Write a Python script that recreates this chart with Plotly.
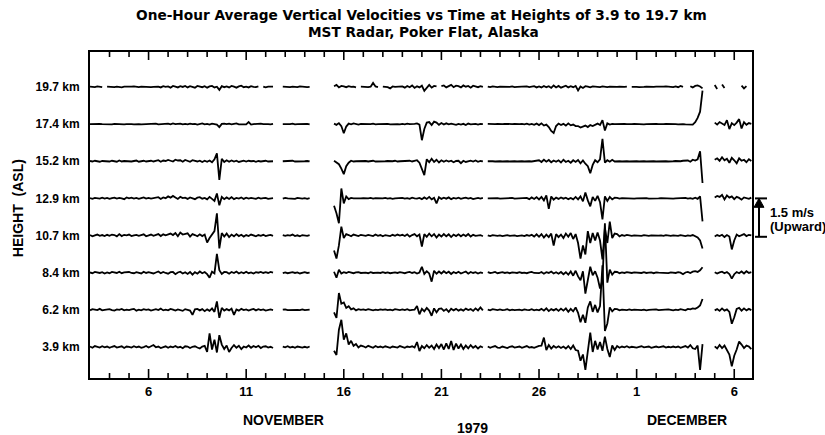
import pandas as pd
import plotly.graph_objects as go

# ---------------- data (one-hour average vertical velocity, cm/s, sampled every 3 h) ----------------
start_time = "1979-11-03 00:00"
step = "3h"
height_labels = ["3.9 km", "6.2 km", "8.4 km", "10.7 km", "12.9 km", "15.2 km", "17.4 km", "19.7 km"]
N = None

w_3_9 = [
    2, -3, 4, 0, -2, 3, -1, 2,   -3, 1, 4, -2, 0, 3, -4, 2,
    1, -2, 3, -1, 2, -3, 0, 4,   -2, 3, 8, -1, 2, -4, 1, 3,
    -3, 2, -1, 4, -2, 1, -5, 3,   2, -4, 1, 3, -2, -6, 2, 5,
    -20, 55, -10, 30, -22, 48, 10, -8,   6, -20, -4, 8, -3, 5, -8, 2,
    -2, 6, -3, 4, -1, 5, -4, 2,   3, -2, 1, -4, N, N, N, 2,
    -1, 3, -2, 1, -3, 2, 0, -2,   1, -2, 2, N, N, N, N, N,
    N, N, N, N, -15, -32, 70, 110,   30, 55, 10, 25, 5, 12, -2, 6,
    3, -2, 5, 0, -3, 4, -1, 2,   -2, 3, 1, -3, 2, 0, -2, 4,
    1, -3, 2, 0, 3, -2, 20, -16,   4, -5, 8, -3, 6, -8, 10, -4,
    12, -10, 15, -8, 24, -12, 14, -6,   10, -8, 6, -5, 8, -3, 4, -6,
    3, -2, N, 2, -3, 1, 4, -2,   -3, 2, 0, -4, 1, 3, -2, 0,
    2, -3, 1, 4, -2, 0, -3, 2,   5, 6, 38, -12, 8, -6, 4, -3,
    3, -4, 2, -6, 4, -8, 6, -12,   -15, -55, -30, -92, -25, 58, -20, 25,
    -10, 20, -15, 42, -8, -40, 6, -12,   4, -3, 2, -1, 3, -2, 1, 0,
    -2, 1, 3, -1, 0, 2, -3, 1,   2, -1, 0, 3, -2, 1, -1, 2,
    -1, 2, -3, 1, 4, -2, 8, -5,   -8, 6, -92, 12, N, N, N, N,
    3, -6, 8, -4, 6, -10, -30, -78,   -35, -10, 22, 10, -4, 6, 2, -8,
]

w_6_2 = [
    -2, 3, 1, -1, 4, -2, 0, 2,   3, -1, -3, 2, 0, 4, -2, 1,
    -1, 2, 4, -3, 1, -2, 3, 0,   2, -3, 0, 3, -1, 5, -2, 1,
    -2, 4, 1, -3, 2, 0, -4, 3,   1, -3, -20, 2, 4, -2, 3, -5,
    2, -4, 6, -8, 34, -32, 8, -3,   3, -2, 5, -20, 2, -3, 4, -1,
    2, -3, 1, 4, -2, 3, -1, 2,   -3, 1, 2, -1, N, N, N, 1,
    2, -1, 0, -2, 1, 0, -1, 2,   -1, 0, 1, N, N, N, N, N,
    N, N, N, N, -10, -32, 68, 25,   30, 8, 15, 2, 6, -2, 3, 0,
    2, -1, 3, 0, -2, 1, -1, 2,   0, 2, -1, 1, -2, 3, 0, -1,
    2, -1, 3, -2, 0, 1, 16, -18,   4, -6, 8, -3, -24, 6, -10, 4,
    6, -4, 3, -8, 5, -2, 4, -3,   2, -3, 5, -1, 3, -4, 6, -2,
    10, -2, N, 1, -2, 3, 0, -1,   2, -1, 0, 3, -2, 1, -1, 0,
    1, -2, 2, 0, -1, 3, -2, 1,   -2, 4, -3, 6, -5, 3, -2, 4,
    -4, 5, -3, 6, -8, 4, -6, 10,   -12, -50, -20, -52, 10, 34, -8, 20,
    -10, 15, 180, -85, -55, 10, -6, 4,   3, -2, 1, 0, -1, 2, -1, 1,
    0, 2, -1, 1, -2, 0, 1, -1,   2, -1, 0, 1, -1, 2, 0, -2,
    1, -1, 3, 0, -2, 4, 2, 6,   4, 10, 18, 44, N, N, N, N,
    -2, 3, -4, 6, -3, 2, -8, -56,   -30, 4, 8, -3, 6, -2, 4, -1,
]

w_8_4 = [
    1, -2, 3, 0, -1, 2, -3, 1,   -2, 3, 0, -1, 4, -2, 1, 2,
    3, -1, -2, 2, 0, -3, 4, -1,   2, 0, -3, 1, 5, -2, 3, -1,
    -4, 2, 3, -6, 1, 4, -3, 2,   -5, 3, -8, 2, -4, 5, -2, 3,
    -6, -20, 4, -3, 76, 10, -5, 3,   2, -4, 3, -1, 5, -3, 2, -2,
    4, -2, 1, -3, 2, 0, 3, -1,   2, -1, 3, 0, N, N, N, -2,
    1, -2, 0, 2, -1, 1, -3, 0,   2, -1, 0, N, N, N, N, N,
    N, N, N, N, 4, -20, 12, -3,   2, -1, 3, 0, -2, 1, 2, -1,
    1, 0, -2, 2, -1, 1, 0, -1,   2, -1, 1, -2, 0, 1, -1, 2,
    0, -2, 1, 3, -1, 2, -3, 1,   24, -5, 6, -3, -36, 8, -4, 5,
    -3, 6, -2, 4, -5, 3, -2, 4,   -3, 2, 5, -4, 3, -1, 2, -3,
    1, -2, N, 2, -1, 0, 3, -2,   0, 2, -1, 1, -2, 1, 0, -1,
    2, -1, 0, -2, 1, 3, -1, 0,   -2, 3, -4, 2, -1, 5, -3, 2,
    -4, 3, -6, 2, -8, 5, -12, 8,   -15, -30, 6, -84, -25, 24, -10, 6,
    -20, -64, -30, 200, -40, 12, -8, 4,   3, -2, 1, -1, 2, 0, -1, 1,
    0, 1, -1, 2, -1, 0, 1, -2,   1, 0, -1, 1, 0, -2, 1, 0,
    -1, 2, 0, -6, 1, 3, -1, 4,   6, 3, 10, 22, N, N, N, N,
    2, -3, 1, 4, -2, 3, -5, -24,   -6, 3, -2, 5, -3, 6, -1, 2,
]

w_10_7 = [
    2, -3, 1, 4, -1, 2, -2, 3,   -1, 4, 2, -3, 6, -2, 3, 1,
    4, -2, 1, 3, -1, 2, 5, -3,   2, 4, -1, 3, 6, -2, 5, 1,
    3, 8, 2, 10, -3, 12, 4, 6,   9, -4, 6, 2, -3, 5, -2, 4,
    -28, -10, 6, 18, 90, -52, 10, -4,   8, -6, 4, -3, 6, -2, 3, -4,
    2, -2, 4, 1, -3, 2, -1, 3,   -2, 1, 3, -1, N, N, N, 2,
    -1, 2, 0, 4, -2, 1, -3, 2,   0, -1, 2, N, N, N, N, N,
    N, N, N, N, -60, -93, -40, 36,   -10, 6, 2, -3, 4, 1, -2, 3,
    2, -1, 3, 0, -2, 4, -1, 2,   -3, 2, 1, -2, 3, -1, 4, 0,
    3, -2, 5, -4, 2, 6, -3, 4,   -44, 6, -5, 8, -3, 6, -8, 4,
    -4, 6, -3, 5, -6, 4, -2, 5,   -3, 4, -2, 6, -4, 3, -1, 2,
    2, -3, N, 1, -2, 2, 0, -1,   1, -2, 0, 2, -1, 0, 1, -2,
    0, 1, -2, 2, -1, 3, -4, 5,   -5, 6, -8, 4, -6, 8, -40, 6,
    -6, 4, -10, 8, -5, 10, -14, 6,   -30, -93, -40, -76, 18, -30, 10, -20,
    12, -20, -96, 30, -30, 56, -10, 8,   6, -3, 2, -1, 3, 0, -1, 1,
    0, 1, -1, 2, 0, -1, 1, 0,   -1, 0, 1, -1, 2, 0, -1, 1,
    0, -1, 2, 0, -2, 1, -1, 2,   -2, -8, -20, -52, N, N, N, N,
    -4, 2, -2, 3, -6, 2, -4, -56,   -20, 4, -3, 2, 6, -2, 3, 1,
]

w_12_9 = [
    1, -2, 2, 0, -1, 3, -1, 2,   -2, 1, 3, -1, 2, 0, -3, 4,
    0, 3, -1, 2, -2, 1, 4, -1,   2, -1, 0, 3, 5, -2, 4, 1,
    8, 3, 10, 4, -2, 6, 1, 3,   -2, 4, 1, -3, 3, 5, -1, 2,
    -4, 6, -2, -10, 20, -28, 6, -3,   4, -2, 5, -3, 2, -1, 4, -2,
    3, -1, 2, 0, -2, 3, -1, 1,   2, -2, 0, 1, N, N, N, -1,
    2, 0, -1, 1, -2, 2, 0, -1,   1, -2, 1, N, N, N, N, N,
    N, N, N, N, -30, -60, -100, 40,   -20, 8, -3, 2, 0, -1, 1, 0,
    1, -1, 0, 2, -1, 1, 0, -1,   0, 2, -1, 1, -2, 0, 1, -1,
    2, -1, 1, -2, 3, 0, -1, 2,   -3, 4, -2, 6, -4, 2, -20, 5,
    -2, 3, -1, 4, -3, 2, -1, 3,   -2, 1, 3, -1, 2, -3, 1, 2,
    -1, 2, N, 0, 1, -1, 0, 1,   -1, 0, 1, -1, 0, 2, -1, 0,
    1, -1, 0, 2, -3, 4, -2, 5,   -4, 6, -8, 12, -42, 8, -5, 3,
    -2, 4, -1, 3, -3, 2, -4, 6,   -4, 8, -12, 24, -8, -32, 6, -10,
    10, -15, -85, 8, -10, 6, -4, 3,   2, -1, 1, 0, -1, 1, 0, -1,
    0, 1, -1, 0, 1, -1, 0, 1,   -1, 0, 1, 0, -1, 1, 0, -1,
    0, 1, -1, 0, 2, -1, 1, -2,   3, -2, 8, -93, N, N, N, N,
    4, 10, 6, 14, -4, 12, 3, 8,   -3, 6, 2, -5, 4, 1, -2, 3,
]

w_15_2 = [
    1, -1, 2, 0, -2, 1, 0, 2,   -1, 2, 0, -2, 3, -1, 1, 0,
    2, -1, 1, 3, -2, 0, 2, -1,   0, 2, -1, 1, 4, -2, 3, 1,
    5, 2, -1, 6, 3, 4, -2, 5,   3, -2, 4, 1, -1, 2, -3, 2,
    -2, 3, -4, 8, 32, -75, 10, -3,   4, -2, 3, -1, 2, -3, 1, 2,
    -1, 2, 0, 1, -2, 1, -1, 0,   2, -1, 1, 0, N, N, N, 0,
    1, -1, 0, 2, -1, 0, 1, -1,   0, 1, -1, N, N, N, N, N,
    N, N, N, N, 2, -5, -12, -30,   -52, -20, -6, 2, -1, 0, 1, -1,
    0, 1, -1, 0, 2, -1, 0, 1,   -1, 0, 1, -1, 0, 2, -1, 0,
    1, -1, 0, 2, -1, 1, 4, -6,   -30, -56, 8, -4, 10, -3, 6, -5,
    4, -2, 3, -1, 2, -4, 1, 2,   -8, 2, -3, 1, 2, -1, 3, -2,
    1, -1, N, 0, 1, 0, -1, 1,   0, -1, 1, 0, -1, 1, 0, -1,
    1, 0, -1, 1, 0, -1, 1, 0,   4, -3, 6, -2, 5, -4, 3, -2,
    4, -5, 6, -3, 2, -6, 4, -3,   5, -8, 3, -10, -20, -48, -15, 4,
    -4, 8, 90, -6, 4, -2, 6, -1,   1, 0, -1, 1, 0, -1, 0, 1,
    0, -1, 1, 0, -1, 0, 1, 0,   -1, 0, 1, 0, 0, -1, 1, 0,
    1, -1, 0, 2, 4, 3, -2, 6,   3, 8, 40, -88, N, N, N, N,
    6, 12, 2, 16, 4, 10, -6, 14,   4, -8, 12, 2, 6, -4, 8, 1,
]

w_17_4 = [
    0, 1, -1, 0, 1, 0, -1, 1,   0, -1, 1, 0, 0, 1, -1, 0,
    1, 0, -1, 1, 0, -1, 0, 1,   -1, 0, 1, 2, -1, 0, 1, 0,
    2, -1, 3, 0, 1, 2, -1, 1,   -1, 2, 0, 1, -2, 1, 3, -1,
    1, -2, 2, 0, -2, -12, 1, 2,   0, 2, -1, 1, 3, -1, 0, 1,
    -1, 8, -2, 0, 1, -1, 2, 0,   1, 0, -1, 1, N, N, N, 0,
    -1, 1, 0, 2, -1, 0, 1, -1,   0, 1, -1, N, N, N, N, N,
    N, N, N, N, 2, -3, 4, -8,   -37, -10, 2, -1, 3, 0, -2, 1,
    0, 1, -1, 0, 2, -1, 0, 1,   -1, 0, 1, -1, 0, 1, 0, -1,
    1, -1, 2, 0, -1, 1, 3, -2,   -65, -20, 6, 8, -4, 10, 6, -3,
    4, -2, 3, -1, 2, 0, -3, 1,   -2, 1, -4, 2, -1, 0, 1, -2,
    1, 0, N, 1, 0, -1, 0, 1,   -1, 0, 1, 0, -1, 0, 1, -1,
    0, 1, -1, 2, -2, 1, -3, 2,   -4, 3, -6, -2, -12, -28, -36, -8,
    2, -4, 1, -6, 3, -5, -2, -8,   -8, -14, -10, -6, -12, -4, -8, -2,
    2, -4, 16, -26, 3, -2, 1, 0,   1, -1, 0, 1, 0, -1, 0, 1,
    0, 1, 0, -1, 0, 1, -1, 0,   1, 0, -1, 0, 1, 0, -1, 0,
    0, -1, 1, 0, -1, -2, -4, -2,   8, 25, 50, 135, N, N, N, N,
    6, -2, 8, 3, -4, 16, -20, 4,   -4, 6, 20, -18, 8, -3, 4, 1,
]

w_19_7 = [
    1, 0, -1, 2, 0, -1, N, 1,   0, 2, -1, 1, 0, -2, 1, 0,
    -1, 1, 2, 0, -1, 1, 0, 2,   1, -1, 0, 2, 1, -2, 3, 0,
    2, -3, 4, 1, -2, 3, 0, 4,   -2, 3, 1, -3, 4, 2, -1, 3,
    -3, 2, 4, -2, 1, -12, 3, -1,   2, -2, 4, 1, -3, 2, 5, -1,
    1, -2, 3, 0, -1, 2, N, 1,   -2, 1, 0, 1, N, N, N, 1,
    0, 2, -1, 1, 0, -1, 2, 0,   1, -1, 0, N, N, N, N, N,
    N, N, N, N, 3, 8, -2, 4,   2, -1, 3, 0, 1, -2, N, 1,
    0, 2, -1, 1, 16, 2, -1, N,   1, 0, -1, -6, 2, 0, 1, -1,
    2, -3, 4, -1, 6, -4, 3, -2,   5, -16, -6, 8, -3, 4, 2, N,
    3, 6, -2, 4, 8, -1, 5, 3,   -2, 6, 1, 4, -3, 5, 2, -1,
    3, 0, N, 1, -1, 2, 0, -1,   1, 0, -1, 1, 0, 2, -1, 0,
    1, -1, 0, 2, -1, 1, 3, -2,   2, -2, 4, -1, 3, -4, 6, -2,
    4, -3, 2, 5, -2, 3, -1, 4,   -14, 2, -4, 3, 1, -2, 2, 0,
    1, -1, 2, 0, -1, 1, 0, -1,   0, 1, -1, 0, 1, N, 0, 1,
    0, -1, 1, 0, 1, 0, -1, 0,   1, 0, -1, 1, 2, 0, 1, -1,
    2, -1, 4, 0, N, N, 3, -2,   4, 6, 2, -6, N, N, N, N,
    8, -8, N, 10, -4, N, N, N,   N, N, N, 5, -6, 3, N, N,
]

series = [w_3_9, w_6_2, w_8_4, w_10_7, w_12_9, w_15_2, w_17_4, w_19_7]
major_tick_dates = ["1979-11-06", "1979-11-11", "1979-11-16", "1979-11-21",
                    "1979-11-26", "1979-12-01", "1979-12-06"]
major_tick_text = ["6", "11", "16", "21", "26", "1", "6"]
row_spacing_ms = 1.5   # trace separation equals the 1.5 m/s scale bar

for s in series:
    assert len(s) == len(w_3_9), len(s)

times = pd.date_range(start_time, periods=len(w_3_9), freq=step)
x_start, x_end = "1979-11-03 00:00", "1979-12-06 21:50"
y_lo, y_hi = -1.25, 11.91

FONT = "Liberation Sans"
TITLE_FONT = "DejaVu Sans"
fig = go.Figure()
for k, w in enumerate(series):
    y = [None if v is None else k * row_spacing_ms + v / 100.0 for v in w]
    fig.add_trace(go.Scatter(x=times, y=y, mode="lines", name=height_labels[k],
                             line=dict(color="black", width=1.8), connectgaps=False,
                             showlegend=False, hoverinfo="skip"))

# daily tick marks along bottom and top frame edges, longer on the labelled days
plot_h = 435 - 52 - 57
units_per_px = (y_hi - y_lo) / plot_h
tx, ty = [], []
for d in pd.date_range("1979-11-04", "1979-12-06", freq="D"):
    ds = d.strftime("%Y-%m-%d")
    major = ds in major_tick_dates
    lb = (9 if major else 5) * units_per_px
    lt = (8 if major else 5) * units_per_px
    tx += [ds, ds, None, ds, ds, None]
    ty += [y_lo, y_lo + lb, None, y_hi, y_hi - lt, None]
fig.add_trace(go.Scatter(x=tx, y=ty, mode="lines", line=dict(color="#000000", width=1.6),
                         showlegend=False, hoverinfo="skip", connectgaps=False))

fig.update_layout(
    width=825, height=435,
    margin=dict(l=90, r=73, t=52, b=57),
    paper_bgcolor="white", plot_bgcolor="white",
    font=dict(family=FONT, color="black"),
)
fig.update_xaxes(
    type="date", range=[x_start, x_end],
    showline=True, linecolor="black", linewidth=2, mirror=True,
    showgrid=False, zeroline=False, ticks="",
    tickmode="array", tickvals=major_tick_dates, ticktext=major_tick_text,
    tickfont=dict(family=FONT, size=13, color="black", weight="bold"),
)
fig.update_yaxes(
    range=[y_lo, y_hi],
    showline=True, linecolor="black", linewidth=2, mirror=True,
    showgrid=False, zeroline=False, ticks="",
    tickvals=[k * row_spacing_ms for k in range(len(height_labels))],
    ticktext=height_labels,
    tickfont=dict(family=FONT, size=12, color="black", weight="bold"),
    ticklabelstandoff=6,
)

ann = [
    dict(text="One-Hour Average Vertical Velocities vs Time at Heights of 3.9 to 19.7 km",
         x=0.5015, y=1.1135, size=13.7, family=TITLE_FONT),
    dict(text="MST Radar, Poker Flat, Alaska", x=0.5045, y=1.061, size=13.7, family=TITLE_FONT),
    dict(text="NOVEMBER", x=0.293, y=-0.129, size=14, family=FONT),
    dict(text="DECEMBER", x=0.902, y=-0.129, size=14, family=FONT),
    dict(text="1979", x=0.5785, y=-0.153, size=14, family=FONT),
]
for a in ann:
    fig.add_annotation(text=a["text"], x=a["x"], y=a["y"], xref="paper", yref="paper",
                       showarrow=False, xanchor="center", yanchor="middle",
                       font=dict(family=a["family"], size=a["size"], color="black", weight="bold"))
fig.add_annotation(text="HEIGHT  (ASL)", x=-0.1088, y=0.521, xref="paper", yref="paper",
                   textangle=-90, showarrow=False, xanchor="center", yanchor="middle",
                   font=dict(family=FONT, size=14, color="black", weight="bold"))
fig.add_annotation(text="1.5 m/s", x=1.024, y=0.509, xref="paper", yref="paper",
                   showarrow=False, xanchor="left", yanchor="middle",
                   font=dict(family=FONT, size=13, color="black", weight="bold"))
fig.add_annotation(text="(Upward)", x=1.024, y=0.466, xref="paper", yref="paper",
                   showarrow=False, xanchor="left", yanchor="middle",
                   font=dict(family=FONT, size=13, color="black", weight="bold"))

# scale bar: 1.5 m/s between the 10.7 and 12.9 km baselines
yb, yt = 3 * row_spacing_ms - 0.05, 4 * row_spacing_ms
xc, xl, xr = 1.0106, 1.0045, 1.0227
fig.add_shape(type="line", xref="paper", yref="y", x0=xc, x1=xc, y0=yb, y1=yt,
              line=dict(color="black", width=2))
for yy in (yb, yt):
    fig.add_shape(type="line", xref="paper", yref="y", x0=xl, x1=xr, y0=yy, y1=yy,
                  line=dict(color="black", width=2))
fig.add_shape(type="path", xref="paper", yref="y",
              path=f"M {xc - 0.0075},{yt - 0.36} L {xc + 0.0075},{yt - 0.36} L {xc},{yt} Z",
              fillcolor="black", line=dict(color="black", width=1))

fig.write_html("out.html")
